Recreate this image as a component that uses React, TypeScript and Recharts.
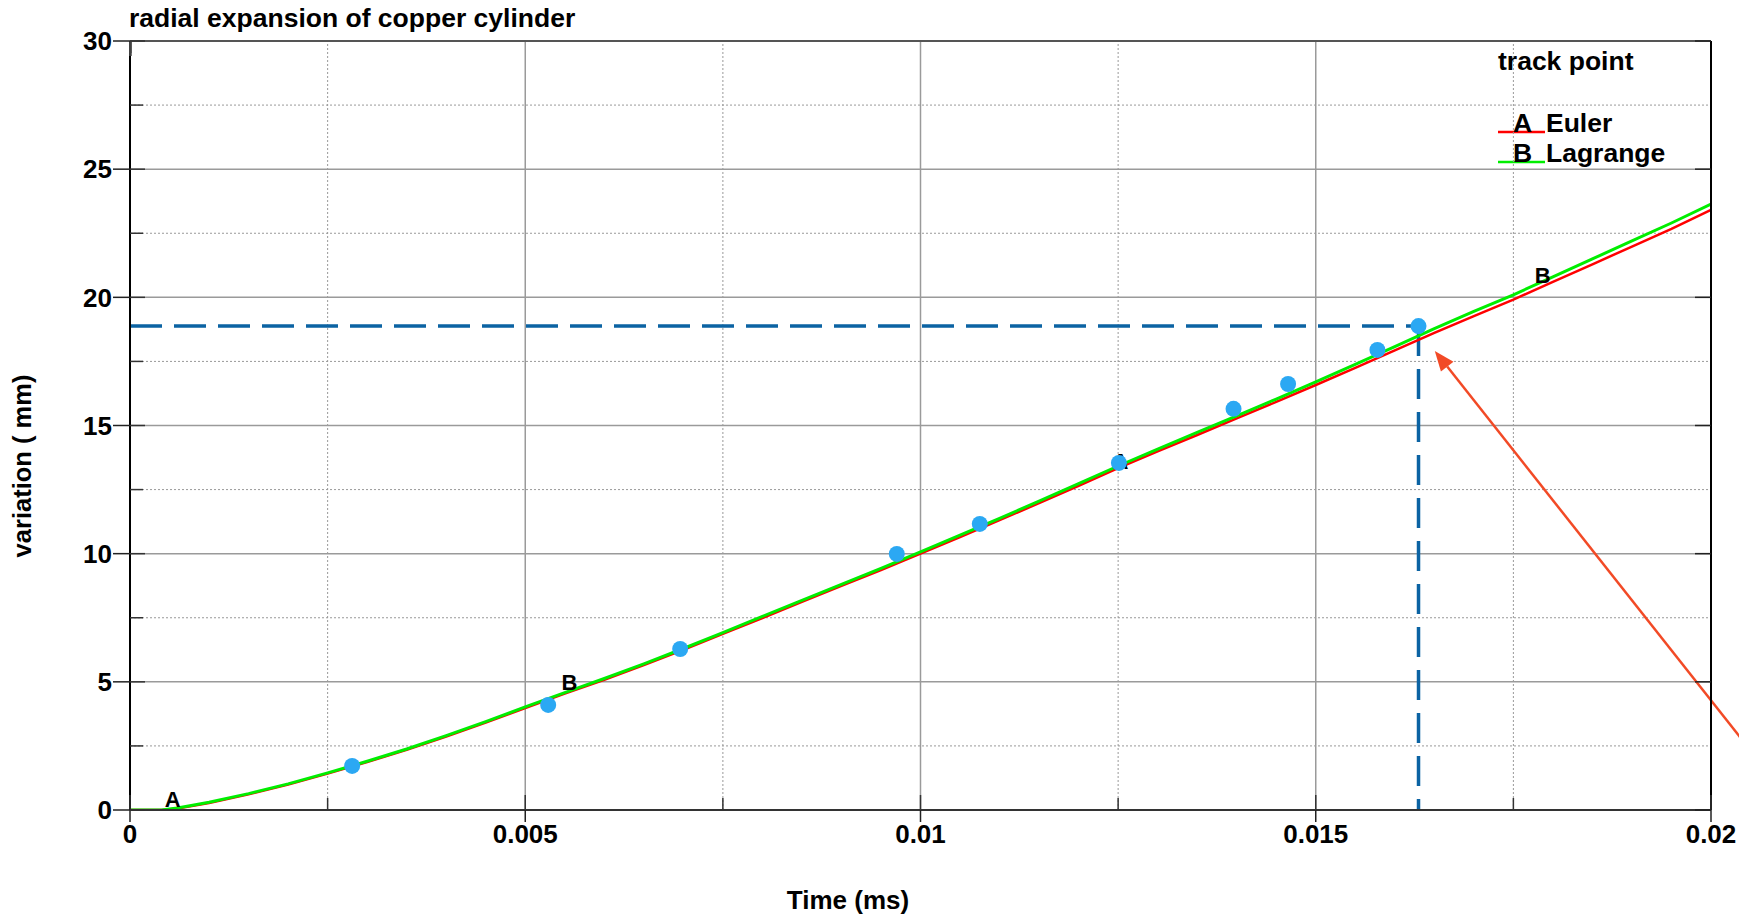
import React from 'react';
import {
  ComposedChart,
  Line,
  Scatter,
  XAxis,
  YAxis,
  ReferenceLine,
  Customized,
} from 'recharts';

// ---- data ----
const timeMs = [
  0, 0.0004, 0.0006, 0.001, 0.0015, 0.002, 0.0025, 0.003, 0.0035, 0.004, 0.0045, 0.005,
  0.0055, 0.006, 0.0065, 0.007, 0.0075, 0.008, 0.0085, 0.009, 0.0095, 0.01, 0.0105, 0.011,
  0.0115, 0.012, 0.0125, 0.013, 0.0135, 0.014, 0.0145, 0.015, 0.0155, 0.016, 0.0165, 0.017,
  0.0175, 0.018, 0.0185, 0.019, 0.0195, 0.02,
];
const eulerMm = [
  0, 0, 0.06, 0.27, 0.61, 0.99, 1.42, 1.87, 2.35, 2.86, 3.41, 3.98,
  4.54, 5.08, 5.65, 6.25, 6.87, 7.49, 8.12, 8.74, 9.36, 10.0, 10.65, 11.31,
  11.97, 12.65, 13.34, 13.99, 14.63, 15.28, 15.92, 16.58, 17.25, 17.93, 18.61, 19.27,
  19.91, 20.6, 21.29, 21.98, 22.67, 23.41,
];
const lagrangeMm = [
  0, 0, 0.08, 0.3, 0.64, 1.02, 1.45, 1.9, 2.38, 2.9, 3.45, 4.02,
  4.58, 5.13, 5.7, 6.3, 6.92, 7.55, 8.18, 8.8, 9.43, 10.07, 10.72, 11.38,
  12.05, 12.73, 13.42, 14.08, 14.73, 15.38, 16.03, 16.7, 17.38, 18.08, 18.78, 19.45,
  20.1, 20.8, 21.5, 22.2, 22.9, 23.64,
];

const markerTime = [0.00281, 0.00529, 0.00696, 0.0097, 0.01075, 0.01251, 0.01396, 0.01465, 0.01578, 0.0163];
const markerMm = [1.72, 4.1, 6.28, 9.99, 11.16, 13.54, 15.65, 16.62, 17.95, 18.88];

const curveLabelText = ['A', 'B', 'A', 'B'];
const curveLabelTime = [0.00054, 0.00556, 0.01253, 0.01787];
const curveLabelMm = [0.43, 4.97, 13.62, 20.87];

// arrow annotation: tail (off the right edge) and tip
const arrowTime = [0.0207, 0.016506];
const arrowMm = [1.55, 17.91];

const xTicks = [0, 0.0025, 0.005, 0.0075, 0.01, 0.0125, 0.015, 0.0175, 0.02];
const xMajorTicks = [0, 0.005, 0.01, 0.015, 0.02];
const xTickLabels = ['0', '0.005', '0.01', '0.015', '0.02'];
const yTicks = [0, 2.5, 5, 7.5, 10, 12.5, 15, 17.5, 20, 22.5, 25, 27.5, 30];
const yMajorTicks = [0, 5, 10, 15, 20, 25, 30];
const yTickLabels = ['0', '5', '10', '15', '20', '25', '30'];

const titleText = 'radial expansion of copper cylinder';
const xTitle = 'Time (ms)';
const yTitle = 'variation ( mm)';
const legendTitle = 'track point';
const seriesNames = ['Euler', 'Lagrange'];
const seriesTags = ['A', 'B'];

// ---- build tables ----
const rows = timeMs.map((t, i) => ({ t, euler: eulerMm[i], lagrange: lagrangeMm[i] }));
const markers = markerTime.map((t, i) => ({ t, v: markerMm[i] }));
const curveLabels = curveLabelTime.map((t, i) => ({ t, v: curveLabelMm[i], s: curveLabelText[i] }));
const lastMarker = markers[markers.length - 1];

const FONT = '"Liberation Sans", Arial, Helvetica, sans-serif';
const RED = '#ff0000';
const GREEN = '#00ee00';
const DOT = '#2ba8f3';
const DASH = '#0b63a3';
const ARROW = '#f24a26';

const majorIndex = (arr: number[], v: number) => arr.findIndex((m) => Math.abs(m - v) < 1e-9);

const LeftTick = (p: any) => {
  const { x, y, payload } = p;
  const idx = majorIndex(yMajorTicks, payload.value);
  const major = idx >= 0;
  return (
    <g>
      {major && <line x1={x - 17} x2={x} y1={y} y2={y} stroke="#222" strokeWidth={1.5} />}
      <line x1={x} x2={x + (major ? 15 : 13)} y1={y} y2={y} stroke="#333" strokeWidth={1.5} />
      {major && (
        <text x={x - 18} y={y} dy="0.355em" textAnchor="end" fontFamily={FONT} fontWeight="bold" fontSize={26} fill="#000">
          {yTickLabels[idx]}
        </text>
      )}
    </g>
  );
};

const BottomTick = (p: any) => {
  const { x, y, payload } = p;
  const idx = majorIndex(xMajorTicks, payload.value);
  const major = idx >= 0;
  return (
    <g>
      {major && <line x1={x} x2={x} y1={y} y2={y + 12} stroke="#222" strokeWidth={1.5} />}
      <line x1={x} x2={x} y1={y} y2={y - (major ? 15 : 12)} stroke="#333" strokeWidth={1.5} />
      {major && (
        <text x={x} y={y + 15} dy="0.71em" textAnchor="middle" fontFamily={FONT} fontWeight="bold" fontSize={26} fill="#000">
          {xTickLabels[idx]}
        </text>
      )}
    </g>
  );
};

const TopTick = (p: any) => {
  const { x, y, payload } = p;
  const major = majorIndex(xMajorTicks, payload.value) >= 0;
  return <line x1={x} x2={x} y1={y} y2={y + (major ? 15 : 12)} stroke="#444" strokeWidth={1.5} />;
};

const RightTick = (p: any) => {
  const { x, y, payload } = p;
  const major = majorIndex(yMajorTicks, payload.value) >= 0;
  if (!major) return <g />;
  return <line x1={x - 16} x2={x} y1={y} y2={y} stroke="#222" strokeWidth={1.5} />;
};

const ArrowShape = (p: any) => {
  const { x1, y1, x2, y2 } = p;
  const ang = Math.atan2(y2 - y1, x2 - x1);
  const L = 20;
  const hw = 8;
  const bx = x2 - L * Math.cos(ang);
  const by = y2 - L * Math.sin(ang);
  const px = -Math.sin(ang) * hw;
  const py = Math.cos(ang) * hw;
  return (
    <g>
      <line x1={x1} y1={y1} x2={bx} y2={by} stroke={ARROW} strokeWidth={2.5} />
      <polygon points={`${x2},${y2} ${bx + px},${by + py} ${bx - px},${by - py}`} fill={ARROW} />
    </g>
  );
};

const Texts = () => (
  <g fontFamily={FONT} fontWeight="bold" fill="#000">
    <text x={129} y={27} fontSize={26.5}>{titleText}</text>
    <text x={848} y={909} fontSize={26} textAnchor="middle">{xTitle}</text>
    <text x={22} y={466} fontSize={25.5} textAnchor="middle" dy="0.35em" transform="rotate(-90 22 466)">
      {yTitle}
    </text>
    <text x={1498} y={70} fontSize={26.5}>{legendTitle}</text>
    <line x1={1498} x2={1545} y1={132} y2={132} stroke={RED} strokeWidth={2.5} />
    <line x1={1498} x2={1545} y1={162} y2={162} stroke={GREEN} strokeWidth={2.5} />
    <text x={1513} y={132} fontSize={26.5}>{seriesTags[0]}</text>
    <text x={1546} y={132} fontSize={26.5}>{seriesNames[0]}</text>
    <text x={1513} y={162} fontSize={26.5}>{seriesTags[1]}</text>
    <text x={1546} y={162} fontSize={26.5}>{seriesNames[1]}</text>
  </g>
);

export default function App() {
  const minorX = xTicks.filter((v) => majorIndex(xMajorTicks, v) < 0);
  const minorY = yTicks.filter((v) => majorIndex(yMajorTicks, v) < 0);
  const majorXGrid = xMajorTicks.filter((v) => v > 0 && v < 0.02);
  const majorYGrid = yMajorTicks.filter((v) => v > 0 && v < 30);
  return (
    <div style={{ position: 'absolute', left: 0, top: 0, background: '#fff' }}>
      <ComposedChart
        width={1739}
        height={916}
        data={rows}
        margin={{ top: 40, right: 27, bottom: 0, left: 0 }}
      >
        <XAxis
          dataKey="t"
          type="number"
          domain={[0, 0.02]}
          allowDataOverflow
          ticks={xTicks}
          interval={0}
          height={106}
          tickSize={0}
          tickMargin={0}
          tickLine={false}
          tick={<BottomTick />}
          axisLine={{ stroke: '#333', strokeWidth: 2 }}
        />
        <XAxis
          xAxisId="top"
          orientation="top"
          type="number"
          domain={[0, 0.02]}
          allowDataOverflow
          ticks={xTicks}
          interval={0}
          height={1}
          tickSize={0}
          tickMargin={0}
          tickLine={false}
          tick={<TopTick />}
          axisLine={{ stroke: '#555', strokeWidth: 2 }}
        />
        <YAxis
          type="number"
          domain={[0, 30]}
          allowDataOverflow
          ticks={yTicks}
          interval={0}
          width={130}
          tickSize={0}
          tickMargin={0}
          tickLine={false}
          tick={<LeftTick />}
          axisLine={{ stroke: '#000', strokeWidth: 2 }}
        />
        <YAxis
          yAxisId="right"
          orientation="right"
          type="number"
          domain={[0, 30]}
          allowDataOverflow
          ticks={yTicks}
          interval={0}
          width={1}
          tickSize={0}
          tickMargin={0}
          tickLine={false}
          tick={<RightTick />}
          axisLine={{ stroke: '#000', strokeWidth: 2 }}
        />

        {minorX.map((v) => (
          <ReferenceLine key={`mx${v}`} x={v} stroke="#999" strokeWidth={1} strokeDasharray="2 2" />
        ))}
        {minorY.map((v) => (
          <ReferenceLine key={`my${v}`} y={v} stroke="#999" strokeWidth={1} strokeDasharray="2 2" />
        ))}
        {majorXGrid.map((v) => (
          <ReferenceLine key={`Mx${v}`} x={v} stroke="#9a9a9a" strokeWidth={1.5} />
        ))}
        {majorYGrid.map((v) => (
          <ReferenceLine key={`My${v}`} y={v} stroke="#9a9a9a" strokeWidth={1.5} />
        ))}

        <ReferenceLine
          segment={[{ x: 0, y: lastMarker.v }, { x: lastMarker.t, y: lastMarker.v }]}
          stroke={DASH}
          strokeWidth={3.5}
          strokeDasharray="32 12"
        />
        <ReferenceLine
          segment={[{ x: lastMarker.t, y: lastMarker.v }, { x: lastMarker.t, y: 0 }]}
          stroke={DASH}
          strokeWidth={3.5}
          strokeDasharray="30 13"
        />

        <Line dataKey="euler" type="linear" stroke={RED} strokeWidth={2.5} dot={false} isAnimationActive={false} />
        <Line dataKey="lagrange" type="linear" stroke={GREEN} strokeWidth={3} dot={false} isAnimationActive={false} />

        <Scatter
          data={curveLabels}
          dataKey="v"
          isAnimationActive={false}
          shape={(p: any) => (
            <text x={p.cx} y={p.cy} dy="0.35em" textAnchor="middle" fontFamily={FONT} fontWeight="bold" fontSize={22} fill="#000">
              {p.payload?.s}
            </text>
          )}
        />
        <Scatter
          data={markers}
          dataKey="v"
          isAnimationActive={false}
          shape={(p: any) => <circle cx={p.cx} cy={p.cy} r={8} fill={DOT} />}
        />

        <ReferenceLine
          segment={[{ x: arrowTime[0], y: arrowMm[0] }, { x: arrowTime[1], y: arrowMm[1] }]}
          ifOverflow="visible"
          shape={ArrowShape}
        />

        <Customized component={Texts} />
      </ComposedChart>
    </div>
  );
}
